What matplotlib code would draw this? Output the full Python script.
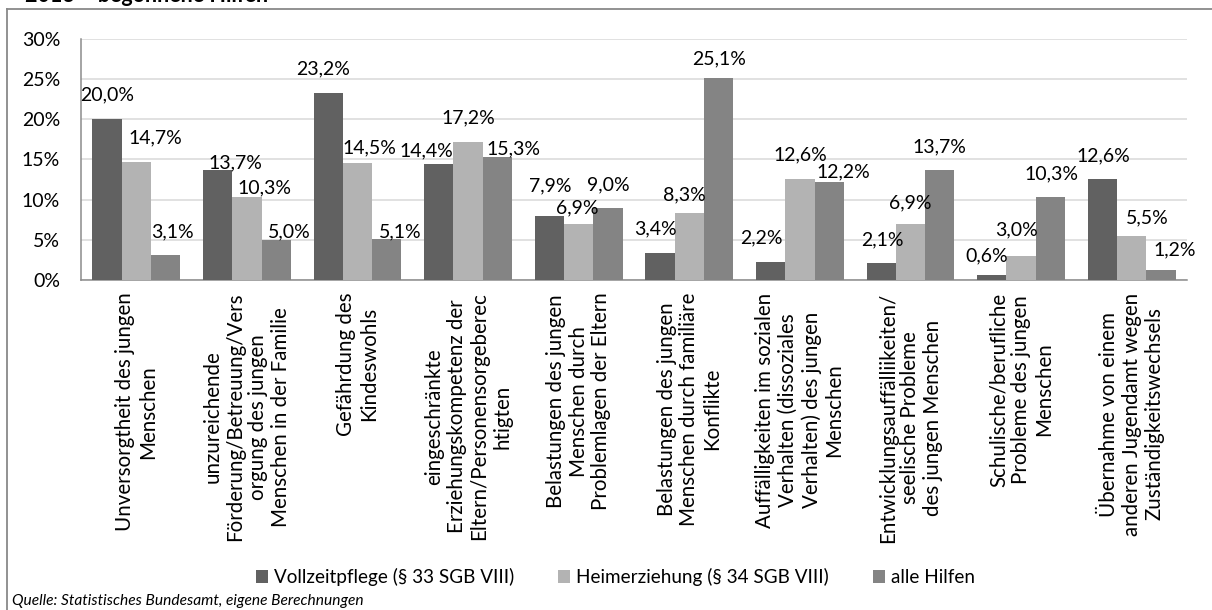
import matplotlib
matplotlib.use("Agg")
import matplotlib.pyplot as plt
from matplotlib.lines import Line2D
import numpy as np

plt.rcParams['font.family'] = ['Lato', 'DejaVu Sans']

categories = [
    "Unversorgtheit des jungen\nMenschen",
    "unzureichende\nFörderung/Betreuung/Vers\norgung des jungen\nMenschen in der Familie",
    "Gefährdung des\nKindeswohls",
    "eingeschränkte\nErziehungskompetenz der\nEltern/Personensorgeberec\nhtigten",
    "Belastungen des jungen\nMenschen durch\nProblemlagen der Eltern",
    "Belastungen des jungen\nMenschen durch familiäre\nKonflikte",
    "Auffälligkeiten im sozialen\nVerhalten (dissoziales\nVerhalten) des jungen\nMenschen",
    "Entwicklungsauffälliikeiten/\nseelische Probleme\ndes jungen Menschen",
    "Schulische/berufliche\nProbleme des jungen\nMenschen",
    "Übernahme von einem\nanderen Jugendamt wegen\nZuständigkeitswechsels",
]
series_names = ["Vollzeitpflege (§ 33 SGB VIII)", "Heimerziehung (§ 34 SGB VIII)", "alle Hilfen"]
vollzeit = [20.0, 13.7, 23.2, 14.4, 7.9, 3.4, 2.2, 2.1, 0.6, 12.6]
heim = [14.7, 10.3, 14.5, 17.2, 6.9, 8.3, 12.6, 6.9, 3.0, 5.5]
alle = [3.1, 5.0, 5.1, 15.3, 9.0, 25.1, 12.2, 13.7, 10.3, 1.2]
yticks = [0, 5, 10, 15, 20, 25, 30]

colors = ["#616161", "#b3b3b3", "#848484"]

# label offsets (pixels) relative to bar top centre
off_voll = [(0, 24), (18, 7), (-5, 24), (-12, 13), (1, 31), (-5, 24), (-9, 24), (1, 23), (-5, 19), (1, 23)]
off_heim = [(19, 24), (18, 9), (12, 15), (0, 24), (-1, 17), (-5, 18), (0, 24), (0, 22), (-5, 26), (16, 18)]
off_alle = [(7, 23), (13, 8), (13, 7), (16, 8), (0, 23), (0, 19), (14, 10), (0, 23), (1, 23), (14, 20)]

W, H = 1212, 610
fig = plt.figure(figsize=(W / 100, H / 100), dpi=100)
ax = fig.add_axes([81 / W, 1 - 280 / H, (1187 - 81) / W, (280 - 38.5) / H])

x = np.arange(len(categories))
bw = 0.265
series = [vollzeit, heim, alle]
offsets = [off_voll, off_heim, off_alle]
fs = 14
for k, (vals, col, offs) in enumerate(zip(series, colors, offsets)):
    xs = x + (k - 1) * bw
    ax.bar(xs, vals, width=bw, color=col, label=series_names[k], zorder=3)
    for xi, v, (dx, dy) in zip(xs, vals, offs):
        ax.annotate(f"{v:.1f}".replace(".", ",") + "%", (xi, v), xytext=(dx, dy),
                    textcoords="offset pixels", ha="center", va="center",
                    fontsize=fs, color="#000000", zorder=4)

ax.set_xlim(-0.5, len(categories) - 0.5)
ax.set_ylim(0, 30)
ax.set_yticks(yticks)
ax.set_yticklabels([f"{t}%" for t in yticks], fontsize=fs)
ax.set_xticks(x)
ax.set_xticklabels(categories, rotation=90, va="top", ha="center",
                   multialignment="center", fontsize=14.8, linespacing=1.17)
ax.tick_params(axis="both", length=0)
ax.tick_params(axis="y", pad=15)
ax.tick_params(axis="x", pad=9)
ax.grid(axis="y", color="#d9d9d9", linewidth=1.1, zorder=0)
ax.set_axisbelow(True)
for s in ["top", "right"]:
    ax.spines[s].set_visible(False)
for s in ["left", "bottom"]:
    ax.spines[s].set_color("#8c8c8c")
    ax.spines[s].set_linewidth(1.1)

leg = fig.legend(loc="center", bbox_to_anchor=(615.5 / W, 1 - 577 / H), ncol=3,
                 frameon=False, fontsize=13.6, handlelength=0.64, handleheight=0.64,
                 handletextpad=0.33, columnspacing=2.3)

# outer frame (left and top edges visible)
fig.add_artist(Line2D([7 / W, 7 / W], [0, 1 - 9 / H], color="#898989", linewidth=1.3,
                      transform=fig.transFigure))
fig.add_artist(Line2D([7 / W, 1.0], [1 - 9 / H, 1 - 9 / H], color="#898989", linewidth=1.3,
                      transform=fig.transFigure))

fig.text(25 / W, 1 - 2.5 / H, "2013 – begonnene Hilfen", fontsize=15.5, fontweight="bold",
         va="baseline", ha="left")
fig.text(12 / W, 1 - 601 / H, "Quelle: Statistisches Bundesamt, eigene Berechnungen",
         fontsize=11.2, style="italic", va="center", ha="left")

fig.savefig("out.png", dpi=100)
